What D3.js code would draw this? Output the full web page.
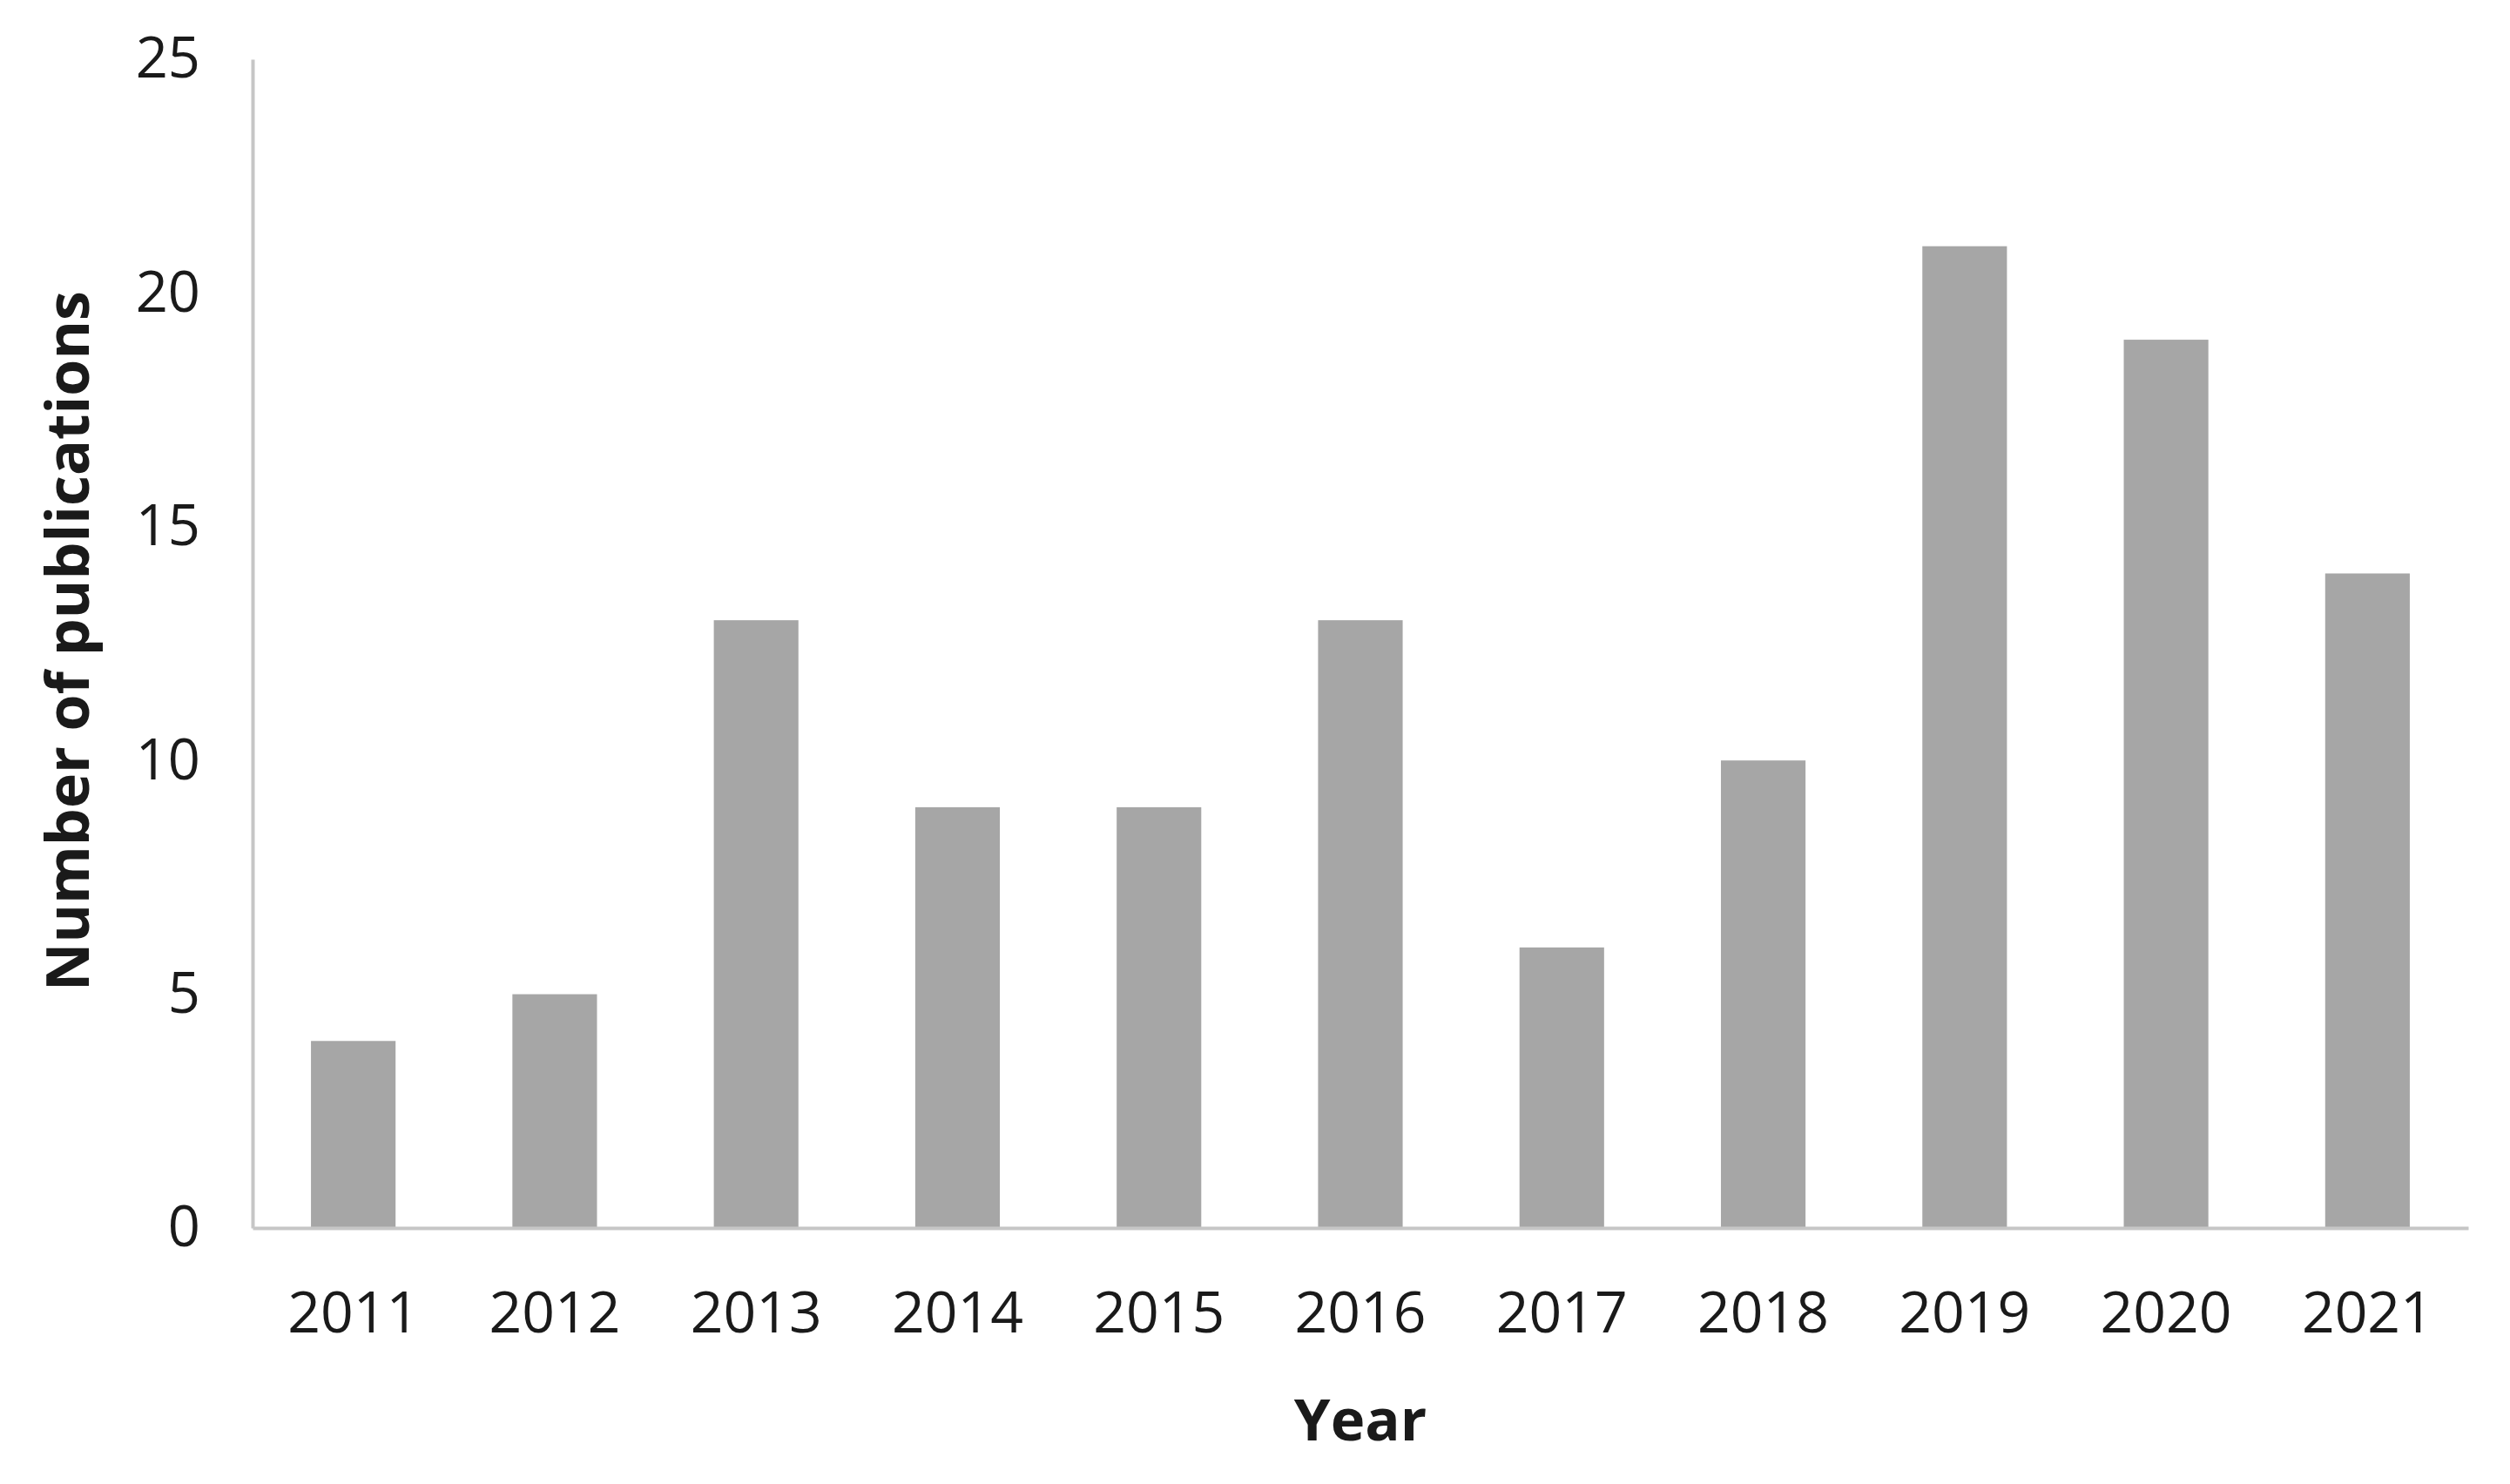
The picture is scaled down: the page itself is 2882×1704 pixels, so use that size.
<!DOCTYPE html>
<html>
<head>
<meta charset="utf-8">
<script src="https://cdn.jsdelivr.net/npm/d3@7"></script>
<style>
  html, body { margin: 0; padding: 0; background: #ffffff; }
  svg { display: block; }
</style>
</head>
<body>
<svg id="chart" width="2882" height="1704"></svg>
<script>
const years = ["2011", "2012", "2013", "2014", "2015", "2016", "2017", "2018", "2019", "2020", "2021"];
const publications = [4, 5, 13, 9, 9, 13, 6, 10, 21, 19, 14];
const yTicks = [0, 5, 10, 15, 20, 25];

(function () {
const svg = d3.select("#chart");
const mLeft = 290, mRight = 2834, mTop = 68, mBottom = 1410;

const x = d3.scaleBand().domain(years).range([mLeft, mRight]).paddingInner(0.58).paddingOuter(0.29);
const y = d3.scaleLinear().domain([0, 25]).range([mBottom, mTop]);

const font = "'Open Sans', 'DejaVu Sans', sans-serif";

svg.append("g")
  .selectAll("rect")
  .data(years.map((yr, i) => ({ yr, v: publications[i] })))
  .join("rect")
  .attr("x", d => x(d.yr))
  .attr("width", x.bandwidth())
  .attr("y", d => y(d.v))
  .attr("height", d => y(0) - y(d.v))
  .attr("fill", "#a6a6a6");

const yAxis = svg.append("g")
  .attr("transform", `translate(${mLeft},0)`)
  .call(d3.axisLeft(y).tickValues(yTicks).tickSize(0).tickPadding(60));
yAxis.select(".domain").attr("stroke", "#c6c6c6").attr("stroke-width", 4);
yAxis.selectAll("text").attr("font-family", font).attr("font-size", 65).attr("fill", "#1a1a1a");

const xAxis = svg.append("g")
  .attr("transform", `translate(0,${mBottom})`)
  .call(d3.axisBottom(x).tickSize(0).tickPadding(73));
xAxis.select(".domain").attr("stroke", "#c6c6c6").attr("stroke-width", 4);
xAxis.selectAll("text").attr("font-family", font).attr("font-size", 66).attr("fill", "#1a1a1a");

svg.append("text")
  .attr("x", (mLeft + mRight) / 2)
  .attr("y", 1654)
  .attr("text-anchor", "middle")
  .attr("font-family", font)
  .attr("font-weight", "bold")
  .attr("font-size", 67)
  .attr("fill", "#1a1a1a")
  .text("Year");

svg.append("text")
  .attr("transform", `translate(102,736) rotate(-90)`)
  .attr("text-anchor", "middle")
  .attr("font-family", font)
  .attr("font-weight", "bold")
  .attr("font-size", 68)
  .attr("fill", "#1a1a1a")
  .text("Number of publications");
})();
</script>
</body>
</html>
